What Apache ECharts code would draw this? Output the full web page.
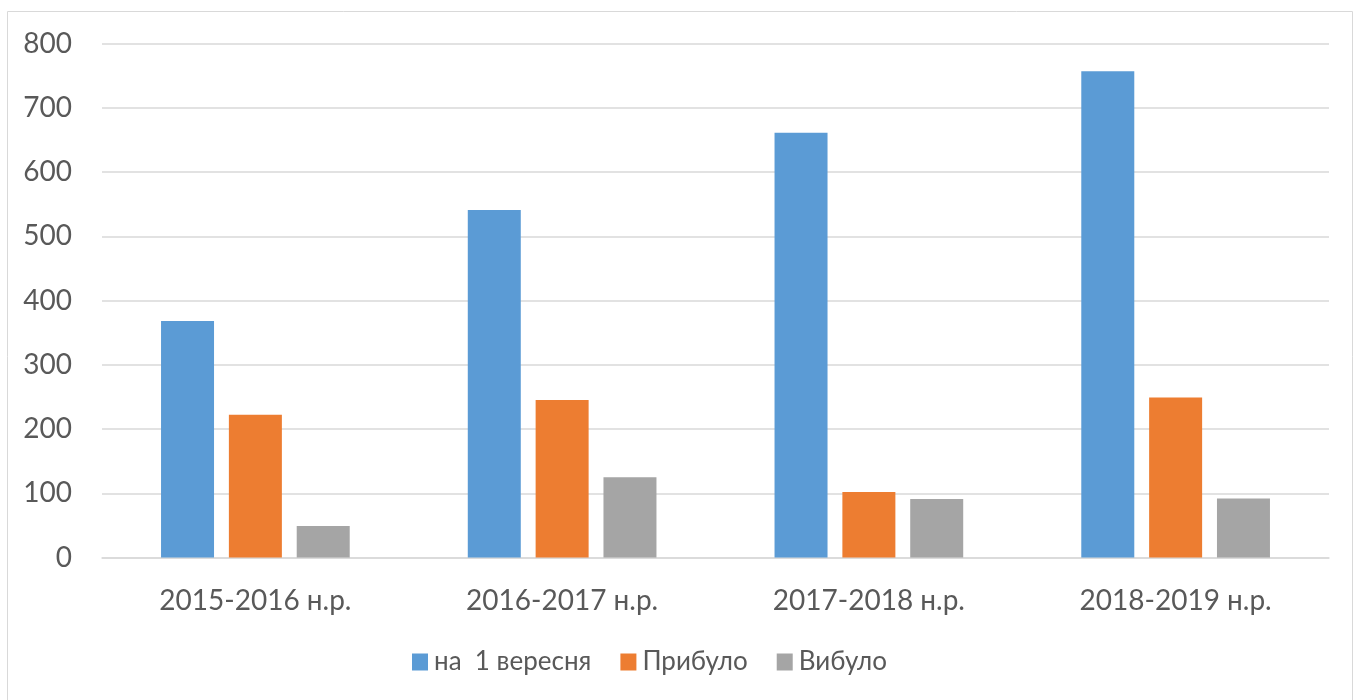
<!DOCTYPE html>
<html>
<head>
<meta charset="utf-8">
<script src="https://cdn.jsdelivr.net/npm/echarts@6/dist/echarts.min.js"></script>
<style>
  html, body { margin: 0; padding: 0; background: #fff; }
  #chart { width: 1355px; height: 700px; }
</style>
</head>
<body>
<div id="chart"></div>
<script>
var categories = ['2015-2016 н.р.', '2016-2017 н.р.', '2017-2018 н.р.', '2018-2019 н.р.'];
var seriesNames = ['на  1 вересня', 'Прибуло', 'Вибуло'];
var onSeptember = [368, 541, 661, 757];
var arrived = [222, 245, 102, 249];
var departed = [49, 125, 91, 92];
var yTicks = [0, 100, 200, 300, 400, 500, 600, 700, 800];

var colors = ['#5b9bd5', '#ed7d31', '#a5a5a5'];
var font = 'Lato, "Open Sans", sans-serif';

var chart = echarts.init(document.getElementById('chart'));

var chartSettings = {
  animation: false,
  color: colors,
  graphic: [{
    type: 'rect',
    shape: { x: 7.5, y: 11.5, width: 1345, height: 690 },
    style: { fill: 'none', stroke: '#d9d9d9', lineWidth: 1 },
    silent: true
  }],
  grid: { left: 102, right: 26, top: 43.5, bottom: 142.5 },
  legend: {
    top: 649,
    left: 412,
    padding: 0,
    itemWidth: 16,
    itemHeight: 17,
    itemGap: 29,
    icon: 'rect',
    textStyle: { fontFamily: font, fontSize: 26, color: '#595959', padding: [0, 0, 0, 1] },
    data: seriesNames
  },
  xAxis: {
    type: 'category',
    data: categories,
    axisLine: { lineStyle: { color: '#d9d9d9', width: 1.5 } },
    axisTick: { show: false },
    axisLabel: { fontFamily: font, fontSize: 28, color: '#595959', margin: 29 }
  },
  yAxis: {
    type: 'value',
    min: yTicks[0],
    max: yTicks[yTicks.length - 1],
    interval: 100,
    axisLine: { show: false },
    axisTick: { show: false },
    splitLine: { lineStyle: { color: '#d9d9d9', width: 1.5 } },
    axisLabel: { fontFamily: font, fontSize: 28, color: '#595959', margin: 30 }
  },
  series: [
    { name: seriesNames[0], type: 'bar', data: onSeptember, barWidth: 53, barGap: '28%' },
    { name: seriesNames[1], type: 'bar', data: arrived, barWidth: 53, barGap: '28%' },
    { name: seriesNames[2], type: 'bar', data: departed, barWidth: 53, barGap: '28%' }
  ]
};

chart.setOption(chartSettings);
</script>
</body>
</html>
